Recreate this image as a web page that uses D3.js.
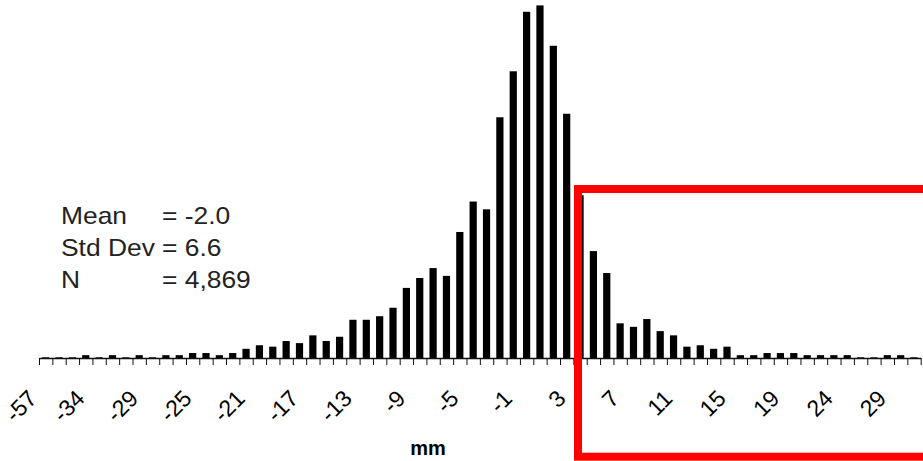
<!DOCTYPE html>
<html>
<head>
<meta charset="utf-8">
<script src="https://cdn.jsdelivr.net/npm/d3@7"></script>
<style>
body { margin: 0; background: #fff; }
svg { display: block; font-family: Arial, "Liberation Sans", sans-serif; }
</style>
</head>
<body>
<div id="chart"></div>
<script>
// mm values, one bar each
var categories = [-57, -37, -36, -35, -34, -33, -32, -30, -29,
  -28, -27, -26, -25, -24, -23, -22, -21, -20, -19, -18, -17, -16, -15, -14, -13,
  -12, -11, -10, -9, -8, -7, -6, -5, -4, -3, -2, -1, 0, 1, 2, 3, 4, 5, 6, 7,
  8, 9, 10, 11, 12, 13, 14, 15, 16, 17, 18, 19,
  20, 21, 22, 24, 25, 26, 28, 29, 31];

// frequency of each value
var counts = [1, 1, 1, 4, 1, 4, 1, 4, 1,
  4, 4, 7, 7, 4, 7, 13, 18, 16, 24, 21, 32, 24, 30, 54, 54,
  59, 71, 99, 113, 127, 116, 178, 221, 210, 340, 405, 489, 498, 441, 345, 230, 151, 120, 49, 44,
  55, 38, 32, 16, 18, 13, 16, 4, 4, 7, 7, 7,
  4, 4, 4, 4, 1, 1, 4, 4, 1];

// labels printed under the axis
var tickLabels = ["-57", "-34", "-29", "-25", "-21", "-17", "-13", "-9", "-5",
  "-1", "3", "7", "11", "15", "19", "24", "29"];

var statNames = ["Mean", "Std Dev", "N"];
var statValues = ["= -2.0", "= 6.6", "= 4,869"];

var width = 923, height = 461;
var left = 39, right = 920.7, base = 358;

var svg = d3.select("#chart")
  .append("svg")
    .attr("width", width)
    .attr("height", height);

var data = categories.map(function(c, i) { return {cat: c, n: counts[i]}; });

// X scale (bands, ticks sit on band edges)
var x = d3.scaleBand()
  .domain(categories)
  .range([left, right])
  .padding(0);

var xEdge = d3.scaleLinear()
  .domain([0, categories.length])
  .range([left, right]);

// Y scale
var y = d3.scaleLinear()
  .domain([0, 500])
  .range([base, 4]);

// Bars
var step = x.step();
svg.selectAll("rect.bar")
  .data(data)
  .enter()
  .append("rect")
    .attr("class", "bar")
    .attr("x", function(d) { return x(d.cat) + step * 0.23; })
    .attr("y", function(d) { return y(d.n); })
    .attr("width", step * 0.54)
    .attr("height", function(d) { return base - y(d.n); })
    .attr("fill", "#000");

// X axis
var axis = svg.append("g")
  .attr("transform", "translate(0," + base + ")")
  .call(d3.axisBottom(xEdge)
    .tickValues(d3.range(categories.length + 1))
    .tickSize(7)
    .tickSizeOuter(0)
    .tickFormat(""));
axis.select(".domain").attr("stroke", "#111").attr("stroke-width", 1.4);
axis.selectAll(".tick line").attr("stroke", "#111").attr("stroke-width", 1);

// rotated labels, every 4th category
var labs = svg.selectAll("text.lab")
  .data(tickLabels)
  .enter()
  .append("text")
    .attr("class", "lab")
    .attr("transform", function(d) {
      var cx = x(+d) + step / 2 - 13;
      return "translate(" + cx + ",400) rotate(-45)";
    })
    .attr("text-anchor", "end")
    .style("font-size", "23px")
    .attr("fill", "#000")
    .text(function(d) { return d; });

// keep the first label inside the page
labs.each(function(d) {
  var b = this.getBoundingClientRect();
  if (b.left < 0) {
    var cx = x(+d) + step / 2 - 13 - b.left;
    d3.select(this).attr("transform", "translate(" + cx + ",400) rotate(-45)");
  }
});

// axis title
svg.append("text")
  .attr("x", 428)
  .attr("y", 455)
  .attr("text-anchor", "middle")
  .style("font-size", "20px")
  .style("font-weight", "bold")
  .text("mm");

// stats box
statNames.forEach(function(s, i) {
  svg.append("text")
    .attr("transform", "translate(61," + (224 + i * 32) + ") scale(1.1,1)")
    .style("font-size", "24px")
    .attr("fill", "#222")
    .text(s);
  svg.append("text")
    .attr("transform", "translate(162," + (224 + i * 32) + ") scale(1.1,1)")
    .style("font-size", "24px")
    .attr("fill", "#222")
    .text(statValues[i]);
});

// red highlight box
svg.append("rect")
  .attr("x", 578)
  .attr("y", 189)
  .attr("width", 360)
  .attr("height", 267.7)
  .attr("fill", "none")
  .attr("stroke", "#ff0000")
  .attr("stroke-width", 8);
</script>
</body>
</html>
